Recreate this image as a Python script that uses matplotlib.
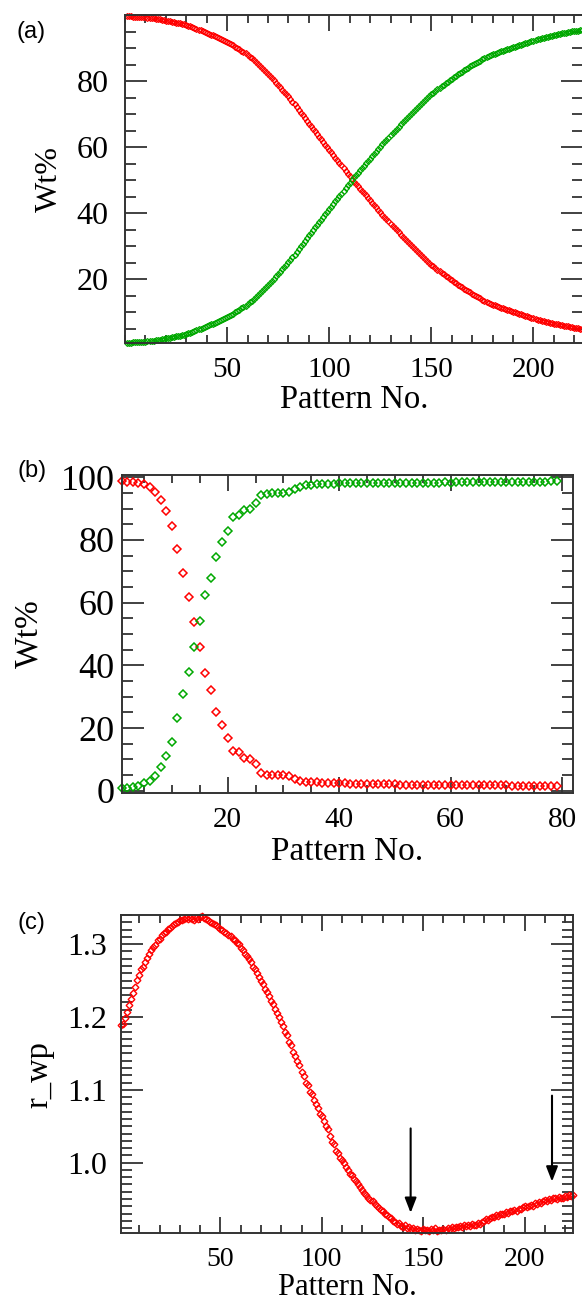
import numpy as np
import matplotlib
matplotlib.use('Agg')
import matplotlib.pyplot as plt
from matplotlib.ticker import MultipleLocator, FixedLocator

# (a) weight fractions of the two phases, patterns 1..224
pattern_a = np.arange(1, 225)
wt_red_a = [
    99.7, 99.7, 99.7, 99.6, 99.6, 99.6, 99.5, 99.5, 99.4, 99.4,
    99.3, 99.3, 99.2, 99.1, 99.0, 98.9, 98.8, 98.7, 98.6, 98.4,
    98.3, 98.2, 98.1, 97.9, 97.8, 97.7, 97.6, 97.4, 97.3, 97.1,
    96.9, 96.7, 96.5, 96.3, 96.0, 95.7, 95.5, 95.2, 94.9, 94.6,
    94.4, 94.1, 93.9, 93.6, 93.4, 93.1, 92.8, 92.6, 92.3, 92.0,
    91.6, 91.3, 90.9, 90.5, 90.1, 89.7, 89.3, 88.9, 88.5, 88.0,
    87.5, 87.0, 86.5, 85.9, 85.3, 84.7, 84.1, 83.5, 82.9, 82.2,
    81.6, 80.9, 80.3, 79.6, 78.9, 78.2, 77.5, 76.8, 76.1, 75.4,
    74.6, 73.8, 73.0, 72.1, 71.3, 70.5, 69.7, 68.8, 68.0, 67.2,
    66.4, 65.6, 64.8, 64.0, 63.2, 62.4, 61.6, 60.8, 60.1, 59.3,
    58.5, 57.7, 56.9, 56.1, 55.3, 54.5, 53.7, 52.8, 52.0, 51.2,
    50.4, 49.6, 48.9, 48.2, 47.5, 46.8, 46.1, 45.4, 44.6, 43.9,
    43.2, 42.5, 41.8, 41.0, 40.3, 39.6, 38.9, 38.3, 37.6, 36.9,
    36.2, 35.5, 34.9, 34.2, 33.5, 32.9, 32.2, 31.6, 30.9, 30.3,
    29.7, 29.1, 28.5, 27.9, 27.3, 26.7, 26.1, 25.6, 25.0, 24.4,
    23.9, 23.4, 22.9, 22.4, 21.9, 21.5, 21.0, 20.6, 20.1, 19.7,
    19.3, 18.8, 18.4, 18.0, 17.6, 17.2, 16.8, 16.4, 16.0, 15.6,
    15.2, 14.9, 14.5, 14.2, 13.8, 13.5, 13.2, 12.9, 12.6, 12.3,
    12.1, 11.8, 11.6, 11.4, 11.2, 11.0, 10.8, 10.6, 10.4, 10.2,
    10.0, 9.8, 9.6, 9.4, 9.2, 9.0, 8.8, 8.6, 8.4, 8.2,
    8.0, 7.8, 7.7, 7.5, 7.3, 7.1, 7.0, 6.8, 6.7, 6.5,
    6.4, 6.3, 6.1, 6.0, 5.9, 5.8, 5.7, 5.6, 5.4, 5.3,
    5.2, 5.1, 5.0, 4.9,
]
wt_green_a = [
    0.8, 0.8, 0.8, 0.9, 0.9, 0.9, 1.0, 1.0, 1.1, 1.1,
    1.2, 1.2, 1.3, 1.4, 1.5, 1.6, 1.7, 1.8, 1.9, 2.1,
    2.2, 2.3, 2.4, 2.6, 2.7, 2.8, 2.9, 3.1, 3.2, 3.4,
    3.6, 3.8, 4.0, 4.2, 4.5, 4.8, 5.0, 5.3, 5.6, 5.9,
    6.1, 6.4, 6.6, 6.9, 7.1, 7.4, 7.7, 7.9, 8.2, 8.5,
    8.9, 9.2, 9.6, 10.0, 10.4, 10.8, 11.2, 11.6, 12.0, 12.5,
    13.0, 13.5, 14.0, 14.6, 15.2, 15.8, 16.4, 17.0, 17.6, 18.3,
    18.9, 19.6, 20.2, 20.9, 21.6, 22.3, 23.0, 23.7, 24.4, 25.1,
    25.9, 26.7, 27.5, 28.4, 29.2, 30.0, 30.8, 31.7, 32.5, 33.3,
    34.1, 34.9, 35.7, 36.5, 37.3, 38.1, 38.9, 39.7, 40.4, 41.2,
    42.0, 42.8, 43.6, 44.4, 45.2, 46.0, 46.8, 47.7, 48.5, 49.3,
    50.1, 50.9, 51.6, 52.3, 53.0, 53.7, 54.4, 55.1, 55.9, 56.6,
    57.3, 58.0, 58.7, 59.5, 60.2, 60.9, 61.6, 62.2, 62.9, 63.6,
    64.3, 65.0, 65.6, 66.3, 67.0, 67.6, 68.3, 68.9, 69.6, 70.2,
    70.8, 71.4, 72.0, 72.6, 73.2, 73.8, 74.4, 74.9, 75.5, 76.1,
    76.6, 77.1, 77.6, 78.1, 78.6, 79.0, 79.5, 79.9, 80.4, 80.8,
    81.2, 81.7, 82.1, 82.5, 82.9, 83.3, 83.7, 84.1, 84.5, 84.9,
    85.3, 85.6, 86.0, 86.3, 86.7, 87.0, 87.3, 87.6, 87.9, 88.2,
    88.4, 88.7, 88.9, 89.1, 89.3, 89.5, 89.7, 89.9, 90.1, 90.3,
    90.5, 90.7, 90.9, 91.1, 91.3, 91.5, 91.7, 91.9, 92.1, 92.3,
    92.5, 92.7, 92.8, 93.0, 93.2, 93.4, 93.5, 93.7, 93.8, 94.0,
    94.1, 94.2, 94.4, 94.5, 94.6, 94.7, 94.8, 94.9, 95.1, 95.2,
    95.3, 95.4, 95.5, 95.6,
]

# (b) weight fractions, patterns 1..79
pattern_b = np.arange(1, 80)
wt_red_b = [
    98.9, 98.6, 98.4, 98.3, 97.8, 97.0, 95.4, 92.6, 89.3, 84.3,
    77.1, 69.4, 61.9, 53.9, 45.8, 37.5, 32.1, 25.2, 21.0, 17.0,
    12.7, 12.3, 10.5, 10.0, 8.4, 5.8, 5.2, 5.2, 5.0, 4.9,
    4.6, 3.7, 3.1, 2.9, 2.8, 2.7, 2.6, 2.6, 2.5, 2.4,
    2.4, 2.3, 2.3, 2.3, 2.2, 2.2, 2.2, 2.1, 2.1, 2.1,
    2.0, 2.0, 2.0, 2.0, 2.0, 1.9, 1.9, 1.9, 1.9, 1.9,
    1.8, 1.8, 1.8, 1.8, 1.7, 1.7, 1.7, 1.7, 1.7, 1.7,
    1.6, 1.6, 1.6, 1.6, 1.6, 1.5, 1.5, 1.5, 1.5,
]
wt_green_b = [
    1.0, 1.0, 1.3, 1.6, 2.4, 3.2, 4.8, 7.7, 11.1, 15.6,
    23.1, 30.8, 37.8, 46.0, 54.2, 62.5, 67.8, 74.7, 79.2, 83.0,
    87.3, 88.0, 89.4, 89.8, 91.7, 94.2, 94.7, 94.9, 95.1, 95.1,
    95.3, 96.2, 96.9, 97.4, 97.5, 97.8, 97.8, 97.9, 97.9, 98.1,
    98.1, 98.1, 98.1, 98.2, 98.1, 98.2, 98.2, 98.2, 98.2, 98.2,
    98.2, 98.2, 98.2, 98.3, 98.2, 98.3, 98.3, 98.3, 98.4, 98.3,
    98.4, 98.4, 98.4, 98.4, 98.4, 98.4, 98.5, 98.4, 98.4, 98.5,
    98.5, 98.5, 98.6, 98.5, 98.6, 98.6, 98.6, 98.7, 98.8,
]

# (c) weighted profile R factor, patterns 1..224
pattern_c = np.arange(1, 225)
rwp_c = [
    1.189, 1.190, 1.199, 1.207, 1.217, 1.224, 1.233, 1.241, 1.251, 1.258,
    1.266, 1.269, 1.276, 1.281, 1.286, 1.292, 1.296, 1.299, 1.305, 1.307,
    1.312, 1.315, 1.317, 1.321, 1.322, 1.325, 1.327, 1.329, 1.330, 1.333,
    1.333, 1.335, 1.336, 1.334, 1.336, 1.335, 1.333, 1.336, 1.335, 1.337,
    1.339, 1.336, 1.334, 1.333, 1.331, 1.329, 1.327, 1.326, 1.323, 1.321,
    1.320, 1.317, 1.315, 1.313, 1.311, 1.307, 1.305, 1.301, 1.300, 1.295,
    1.292, 1.287, 1.284, 1.279, 1.275, 1.269, 1.266, 1.260, 1.255, 1.249,
    1.245, 1.238, 1.234, 1.229, 1.222, 1.218, 1.211, 1.205, 1.200, 1.193,
    1.188, 1.179, 1.175, 1.165, 1.161, 1.152, 1.147, 1.139, 1.134, 1.125,
    1.119, 1.110, 1.106, 1.097, 1.094, 1.086, 1.080, 1.075, 1.067, 1.064,
    1.057, 1.050, 1.046, 1.036, 1.028, 1.025, 1.016, 1.013, 1.007, 1.004,
    0.999, 0.994, 0.990, 0.985, 0.983, 0.978, 0.975, 0.970, 0.967, 0.962,
    0.959, 0.956, 0.952, 0.949, 0.947, 0.943, 0.941, 0.938, 0.935, 0.933,
    0.929, 0.928, 0.925, 0.924, 0.920, 0.919, 0.916, 0.917, 0.913, 0.912,
    0.914, 0.910, 0.911, 0.909, 0.910, 0.907, 0.909, 0.908, 0.906, 0.909,
    0.907, 0.908, 0.906, 0.909, 0.907, 0.910, 0.906, 0.908, 0.907, 0.909,
    0.908, 0.910, 0.909, 0.911, 0.910, 0.912, 0.911, 0.913, 0.912, 0.914,
    0.913, 0.915, 0.913, 0.916, 0.914, 0.915, 0.917, 0.916, 0.919, 0.920,
    0.922, 0.921, 0.924, 0.926, 0.925, 0.928, 0.927, 0.929, 0.930, 0.929,
    0.932, 0.931, 0.933, 0.934, 0.935, 0.934, 0.937, 0.936, 0.939, 0.940,
    0.939, 0.941, 0.942, 0.941, 0.944, 0.943, 0.946, 0.945, 0.947, 0.949,
    0.948, 0.950, 0.949, 0.951, 0.952, 0.950, 0.953, 0.951, 0.952, 0.954,
    0.953, 0.955, 0.954, 0.956,
]

# arrows marking the r_wp minima: (pattern, tail value, head value)
arrow_x = [143.8, 213.5]
arrow_tail = [1.047, 1.092]
arrow_head = [0.931, 0.974]

RED = '#ff0000'
GREEN = '#00a800'
AXCOL = '#333333'

plt.rcParams['font.family'] = 'Liberation Serif'

W, H = 582, 1301
fig = plt.figure(figsize=(W / 100, H / 100), dpi=100)


def add_axes_px(left, top, right, bottom):
    # place an axes box using pixel edges measured from the top-left corner
    return fig.add_axes([left / W, 1 - bottom / H, (right - left) / W, (bottom - top) / H])


def style_axes(ax, xsize, ysize, ypad, xpad):
    for s in ax.spines.values():
        s.set_color(AXCOL)
        s.set_linewidth(1.4)
    ax.tick_params(which='both', direction='in', top=True, right=True,
                   color=AXCOL, width=1.3, labelcolor='black')
    ax.tick_params(axis='y', which='major', length=15.6, pad=ypad, labelsize=ysize)
    ax.tick_params(axis='y', which='minor', length=8.2)
    ax.tick_params(axis='x', which='major', length=11.8, pad=xpad, labelsize=xsize)
    ax.tick_params(axis='x', which='minor', length=5.6)


def diamonds(ax, x, y, color, ms, mew):
    ax.plot(x, y, ls='none', marker='D', ms=ms, mfc='none', mec=color,
            mew=mew, clip_on=False)


# panel (a)
ax_a = add_axes_px(125, 15, 582.5, 343.3)
diamonds(ax_a, pattern_a, wt_red_a, RED, 3.0, 0.9)
diamonds(ax_a, pattern_a, wt_green_a, GREEN, 3.0, 0.9)
ax_a.set_xlim(0, 224)
ax_a.set_ylim(0.6, 100.1)
ax_a.xaxis.set_major_locator(FixedLocator([50, 100, 150, 200]))
ax_a.xaxis.set_minor_locator(MultipleLocator(10))
ax_a.yaxis.set_major_locator(FixedLocator([20, 40, 60, 80]))
ax_a.yaxis.set_minor_locator(MultipleLocator(5))
style_axes(ax_a, 21, 23, 12, 10)
ax_a.set_xlabel('Pattern No.', fontsize=23.5)
ax_a.set_ylabel('Wt%', fontsize=23)
ax_a.xaxis.set_label_coords(0.5, -0.125)
ax_a.yaxis.set_label_coords(-0.133, 0.5)

# panel (b)
ax_b = add_axes_px(121.7, 475, 573.3, 792.7)
diamonds(ax_b, pattern_b, wt_red_b, RED, 3.8, 1.1)
diamonds(ax_b, pattern_b, wt_green_b, GREEN, 3.8, 1.1)
ax_b.set_xlim(1, 82)
ax_b.set_ylim(-0.6, 100.7)
ax_b.xaxis.set_major_locator(FixedLocator([20, 40, 60, 80]))
ax_b.xaxis.set_minor_locator(MultipleLocator(5))
ax_b.yaxis.set_major_locator(FixedLocator([0, 20, 40, 60, 80, 100]))
ax_b.yaxis.set_minor_locator(MultipleLocator(5))
style_axes(ax_b, 21, 26, 5, 10.5)
ax_b.set_xlabel('Pattern No.', fontsize=24)
ax_b.set_ylabel('Wt%', fontsize=24)
ax_b.xaxis.set_label_coords(0.5, -0.1385)
ax_b.yaxis.set_label_coords(-0.172, 0.5)

# panel (c)
ax_c = add_axes_px(121, 915, 573.3, 1233.3)
diamonds(ax_c, pattern_c, rwp_c, RED, 3.4, 1.0)
ax_c.set_xlim(1, 224)
ax_c.set_ylim(0.903, 1.340)
ax_c.xaxis.set_major_locator(FixedLocator([50, 100, 150, 200]))
ax_c.xaxis.set_minor_locator(MultipleLocator(10))
ax_c.yaxis.set_major_locator(FixedLocator([1.0, 1.1, 1.2, 1.3]))
ax_c.yaxis.set_minor_locator(MultipleLocator(0.01))
ax_c.yaxis.set_major_formatter(plt.FormatStrFormatter('%.1f'))
style_axes(ax_c, 20, 23, 10, 10)
ax_c.set_xlabel('Pattern No.', fontsize=22)
ax_c.set_ylabel('r_wp', fontsize=23.5)
ax_c.xaxis.set_label_coords(0.5, -0.1255)
ax_c.yaxis.set_label_coords(-0.148, 0.5)

for x, y0, y1 in zip(arrow_x, arrow_tail, arrow_head):
    ax_c.annotate('', xy=(x, y1), xytext=(x, y0),
                  arrowprops=dict(arrowstyle='-|>,head_length=0.9,head_width=0.35',
                                  color='black', lw=1.5, shrinkA=0, shrinkB=0))

# panel letters
for label, cx, cy in [('(a)', 31.5, 32), ('(b)', 32.5, 471), ('(c)', 31.7, 923)]:
    fig.text(cx / W, 1 - cy / H, label, family='Liberation Sans', fontsize=17,
             ha='center', va='center')

fig.savefig('out.png', dpi=100)
